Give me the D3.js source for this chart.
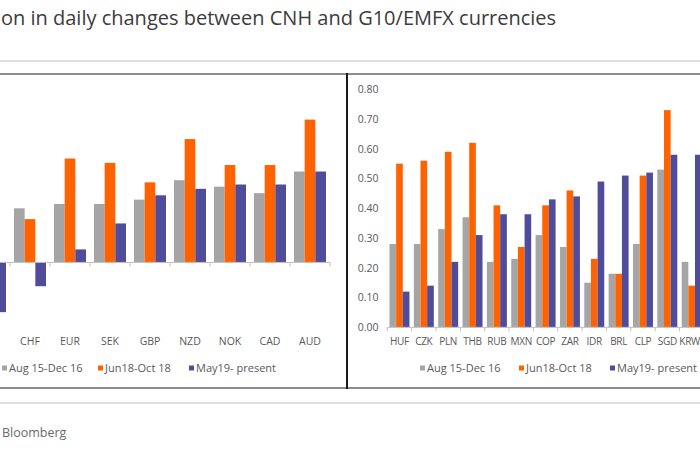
<!DOCTYPE html>
<html>
<head>
<meta charset="utf-8">
<script src="https://cdn.jsdelivr.net/npm/d3@7"></script>
<style>
  html, body { margin: 0; padding: 0; background: #ffffff; }
  svg { display: block; }
  text { font-family: "Open Sans", "DejaVu Sans", sans-serif; }
</style>
</head>
<body>
<div id="chart"></div>
<script>
// ---- Data ----
const titleText = "on in daily changes between CNH and G10/EMFX currencies";
const sourceText = "Bloomberg";
const seriesNames = ["Aug 15-Dec 16", "Jun18-Oct 18", "May19- present"];
const seriesColors = ["#a5a5a5", "#ff6200", "#4e4c9b"];

const leftCategories = ["JPY", "CHF", "EUR", "SEK", "GBP", "NZD", "NOK", "CAD", "AUD"];
const leftAug15Dec16 = [0.15, 0.25, 0.27, 0.27, 0.29, 0.38, 0.35, 0.32, 0.42];
const leftJun18Oct18 = [0.35, 0.20, 0.48, 0.46, 0.37, 0.57, 0.45, 0.45, 0.66];
const leftMay19Present = [-0.23, -0.11, 0.06, 0.18, 0.31, 0.34, 0.36, 0.36, 0.42];

const rightCategories = ["HUF", "CZK", "PLN", "THB", "RUB", "MXN", "COP", "ZAR", "IDR", "BRL", "CLP", "SGD", "KRW"];
const rightAug15Dec16 = [0.28, 0.28, 0.33, 0.37, 0.22, 0.23, 0.31, 0.27, 0.15, 0.18, 0.28, 0.53, 0.22];
const rightJun18Oct18 = [0.55, 0.56, 0.59, 0.62, 0.41, 0.27, 0.41, 0.46, 0.23, 0.18, 0.51, 0.73, 0.14];
const rightMay19Present = [0.12, 0.14, 0.22, 0.31, 0.38, 0.38, 0.43, 0.44, 0.49, 0.51, 0.52, 0.58, 0.58];
const rightYTicks = [0, 0.1, 0.2, 0.3, 0.4, 0.5, 0.6, 0.7, 0.8];

// ---- Layout ----
const W = 700, H = 450;
const svg = d3.select("#chart").append("svg").attr("width", W).attr("height", H);

const labelColor = "#595959";
const legendFont = 11;

// Title
svg.append("text").attr("x", 1).attr("y", 25)
  .attr("font-size", 20).attr("fill", "#3c3c3c").text(titleText);

// separator lines
svg.append("line").attr("x1", 0).attr("x2", W).attr("y1", 61).attr("y2", 61)
  .attr("stroke", "#dedede").attr("stroke-width", 2);
svg.append("line").attr("x1", 0).attr("x2", W).attr("y1", 403).attr("y2", 403)
  .attr("stroke", "#dedede").attr("stroke-width", 2);

// Source
svg.append("text").attr("x", 2).attr("y", 436.5)
  .attr("font-size", 12.5).attr("fill", "#6a6a6a").text(sourceText);

// Panel borders
svg.append("line").attr("x1", 0).attr("x2", W).attr("y1", 74).attr("y2", 74)
  .attr("stroke", "#8c8c8c").attr("stroke-width", 2);
svg.append("line").attr("x1", 0).attr("x2", W).attr("y1", 388).attr("y2", 388)
  .attr("stroke", "#8c8c8c").attr("stroke-width", 2);
svg.append("line").attr("x1", 347).attr("x2", 347).attr("y1", 73).attr("y2", 389)
  .attr("stroke", "#1a1a1a").attr("stroke-width", 2);

function drawPanel(cfg) {
  const g = svg.append("g");
  const x = d3.scaleBand().domain(cfg.categories).range(cfg.xRange)
    .paddingInner(cfg.padInner).paddingOuter(cfg.padOuter);
  const y = d3.scaleLinear().domain(cfg.yDomain).range([327.3, 89.3]);
  const sub = d3.scaleBand().domain(d3.range(3)).range([0, x.bandwidth()]);
  const seriesVals = cfg.series;

  // bars
  seriesVals.forEach((vals, si) => {
    g.append("g").selectAll("rect").data(cfg.categories).join("rect")
      .attr("x", (c) => x(c) + sub(si))
      .attr("width", sub.bandwidth())
      .attr("y", (c, i) => y(Math.max(0, vals[i])))
      .attr("height", (c, i) => Math.abs(y(vals[i]) - y(0)))
      .attr("fill", seriesColors[si]);
  });

  // x axis line at zero
  const zeroY = y(0);
  const gap = (x.step() - x.bandwidth()) / 2;
  const bounds = cfg.categories.map(c => x(c) - gap);
  bounds.push(x(cfg.categories[cfg.categories.length - 1]) + x.bandwidth() + gap);
  g.append("line").attr("x1", bounds[0]).attr("x2", bounds[bounds.length - 1])
    .attr("y1", zeroY).attr("y2", zeroY).attr("stroke", "#bfbfbf").attr("stroke-width", 1);
  g.append("g").selectAll("line").data(bounds).join("line")
    .attr("x1", d => d).attr("x2", d => d)
    .attr("y1", zeroY).attr("y2", zeroY + 4)
    .attr("stroke", "#bfbfbf").attr("stroke-width", 1);

  // category labels (only those whose centre lies inside the picture)
  const visibleCats = cfg.categories.filter(c => x(c) + x.bandwidth() / 2 > 0);
  g.append("g").selectAll("text").data(visibleCats).join("text")
    .attr("x", c => x(c) + x.bandwidth() / 2)
    .attr("y", 345)
    .attr("text-anchor", "middle")
    .attr("font-size", cfg.catFont).attr("fill", labelColor)
    .attr("letter-spacing", cfg.catSpacing)
    .text(c => c)
    .each(function () {
      const bb = this.getBBox();
      if (bb.x + bb.width > W - 1) {
        d3.select(this).attr("text-anchor", "end").attr("x", W);
      }
    });

  // y axis labels
  if (cfg.yTicks) {
    g.append("g").selectAll("text").data(cfg.yTicks).join("text")
      .attr("x", cfg.yLabelX).attr("y", d => y(d) + 3.8)
      .attr("text-anchor", "end")
      .attr("font-size", 10.5).attr("fill", labelColor)
      .text(d => d3.format(".2f")(d));
  }

  // legend
  cfg.legend.forEach((lx, i) => {
    g.append("rect").attr("x", lx).attr("y", 365.5).attr("width", 5).attr("height", 5)
      .attr("fill", seriesColors[i]);
    g.append("text").attr("x", lx + 7).attr("y", 372)
      .attr("font-size", legendFont).attr("fill", labelColor).text(seriesNames[i]);
  });
}

drawPanel({
  categories: leftCategories,
  series: [leftAug15Dec16, leftJun18Oct18, leftMay19Present],
  xRange: [-30, 330], padInner: 0.2, padOuter: 0.1,
  yDomain: [-0.3, 0.8],
  yTicks: null,
  catFont: 10.5, catSpacing: 0,
  legend: [2, 98, 189]
});

drawPanel({
  categories: rightCategories,
  series: [rightAug15Dec16, rightJun18Oct18, rightMay19Present],
  xRange: [387.3, 387.3 + 13 * 24.35], padInner: 0.18, padOuter: 0.09,
  yDomain: [0, 0.8],
  yTicks: rightYTicks, yLabelX: 378.5,
  catFont: 10, catSpacing: -0.3,
  legend: [420, 519, 610]
});
</script>
</body>
</html>
